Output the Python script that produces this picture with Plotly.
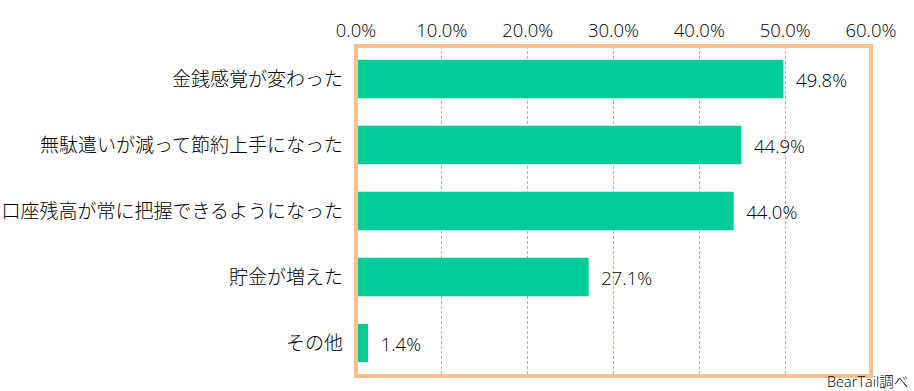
import plotly.graph_objects as go

categories = ["金銭感覚が変わった", "無駄遣いが減って節約上手になった", "口座残高が常に把握できるようになった", "貯金が増えた", "その他"]
values = [49.8, 44.9, 44.0, 27.1, 1.4]
tick_vals = [0, 10, 20, 30, 40, 50, 60]
tick_text = ["0.0%", "10.0%", "20.0%", "30.0%", "40.0%", "50.0%", "60.0%"]
source_note = "BearTail調べ"

NUMFONT = "'Open Sans', 'Noto Sans CJK JP', sans-serif"
JPFONT = "'Noto Sans CJK JP', sans-serif"
ORANGE = "#FBC08C"
TEXT = "#000000"

fig = go.Figure(go.Bar(
    x=values, y=categories, orientation="h",
    marker=dict(color="#00CC99", line=dict(width=0)),
    text=[f"  {v:.1f}%" for v in values],
    textposition="outside",
    textfont=dict(size=18.5, color=TEXT, family=NUMFONT, weight=300),
    cliponaxis=False,
    hoverinfo="skip",
))

fig.update_layout(
    width=914, height=391,
    margin=dict(l=356, r=43, t=46, b=15, autoexpand=False),
    paper_bgcolor="white", plot_bgcolor="white",
    bargap=0.42,
    showlegend=False,
    font=dict(family=NUMFONT, color=TEXT),
    xaxis=dict(
        side="top", range=[0, 60], tickvals=tick_vals, ticktext=tick_text,
        showgrid=True, gridcolor="#F4A060", griddash="3px,2px", gridwidth=1,
        zeroline=False, showline=False, ticks="",
        tickfont=dict(size=18.5, family=NUMFONT, color=TEXT, weight=300),
        ticklabelstandoff=4,
        fixedrange=True,
    ),
    yaxis=dict(
        autorange="reversed", showgrid=False, zeroline=False, showline=False,
        ticks="", tickfont=dict(size=19, family=JPFONT, color=TEXT, weight=300),
        ticklabelstandoff=12,
        fixedrange=True,
    ),
    shapes=[dict(type="rect", xref="paper", yref="paper", x0=0, x1=1, y0=0, y1=1,
                 line=dict(color=ORANGE, width=4), layer="above")],
    annotations=[dict(text=source_note, xref="paper", yref="paper", x=1.074, y=0,
                      xanchor="right", yanchor="top", yshift=5, showarrow=False,
                      borderpad=0,
                      font=dict(size=14.5, family=NUMFONT, color=TEXT, weight=300))],
)

fig.write_html("out.html", config={"displayModeBar": False, "staticPlot": True},
               post_script="document.body.style.margin='0';document.body.style.overflow='hidden';")
